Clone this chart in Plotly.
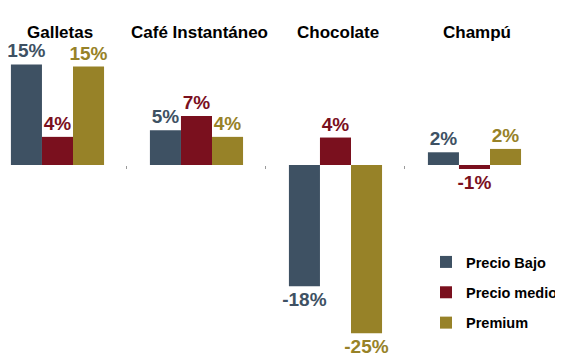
import plotly.graph_objects as go

categories = ["Galletas", "Café Instantáneo", "Chocolate", "Champú"]
series_names = ["Precio Bajo", "Precio medio", "Premium"]
precio_bajo = [0.150, 0.052, -0.181, 0.019]
precio_medio = [0.042, 0.073, 0.041, -0.006]
premium = [0.147, 0.042, -0.251, 0.024]
colors = ["#3E5163", "#7A101E", "#978228"]

FONT = "Arial, 'Liberation Sans', sans-serif"
# page shows the figure offset by the default 8px body margin
W, H = 555, 350
PLOT_W = 530
y_range = [-0.288, 0.2343]
x_range = [-0.356, 3.457]

fig = go.Figure()
for i, (name, vals) in enumerate(zip(series_names, [precio_bajo, precio_medio, premium])):
    fig.add_trace(go.Bar(
        x=categories, y=vals, name=f"<b>{name}</b>",
        marker=dict(color=colors[i], line=dict(width=0)),
        texttemplate="<b>%{y:.0%}</b>", textposition="outside",
        textfont=dict(family=FONT, size=19, color=colors[i]),
        constraintext="none",
        cliponaxis=False, legendgroup=name,
    ))

zero_pos = (0 - y_range[0]) / (y_range[1] - y_range[0])

for c in categories:
    fig.add_annotation(x=c, xref="x", y=1 - 13 / H, yref="paper", xshift=3,
                       text=f"<b>{c}</b>", showarrow=False,
                       font=dict(family=FONT, size=17, color="#000000"))

fig.update_layout(
    width=W, height=H, margin=dict(l=0, r=W - PLOT_W, t=0, b=0, autoexpand=False),
    paper_bgcolor="white", plot_bgcolor="white",
    barmode="group", bargap=0.33, bargroupgap=0,
    showlegend=True,
    legend=dict(x=418 / PLOT_W, y=1 - 238 / H, xref="paper", yref="paper",
                xanchor="left", yanchor="top",
                font=dict(family=FONT, size=14.5, color="#000000"),
                tracegroupgap=8.5, bgcolor="rgba(0,0,0,0)",
                itemwidth=30),
    xaxis=dict(range=x_range, showgrid=False, zeroline=False, showline=False,
               showticklabels=False, ticks="outside", tickson="boundaries",
               ticklen=3, tickcolor="#9a9a9a", anchor="free", position=zero_pos),
    yaxis=dict(range=y_range, showgrid=False, zeroline=False, showline=False,
               showticklabels=False, ticks=""),
)

fig.write_html("out.html")
